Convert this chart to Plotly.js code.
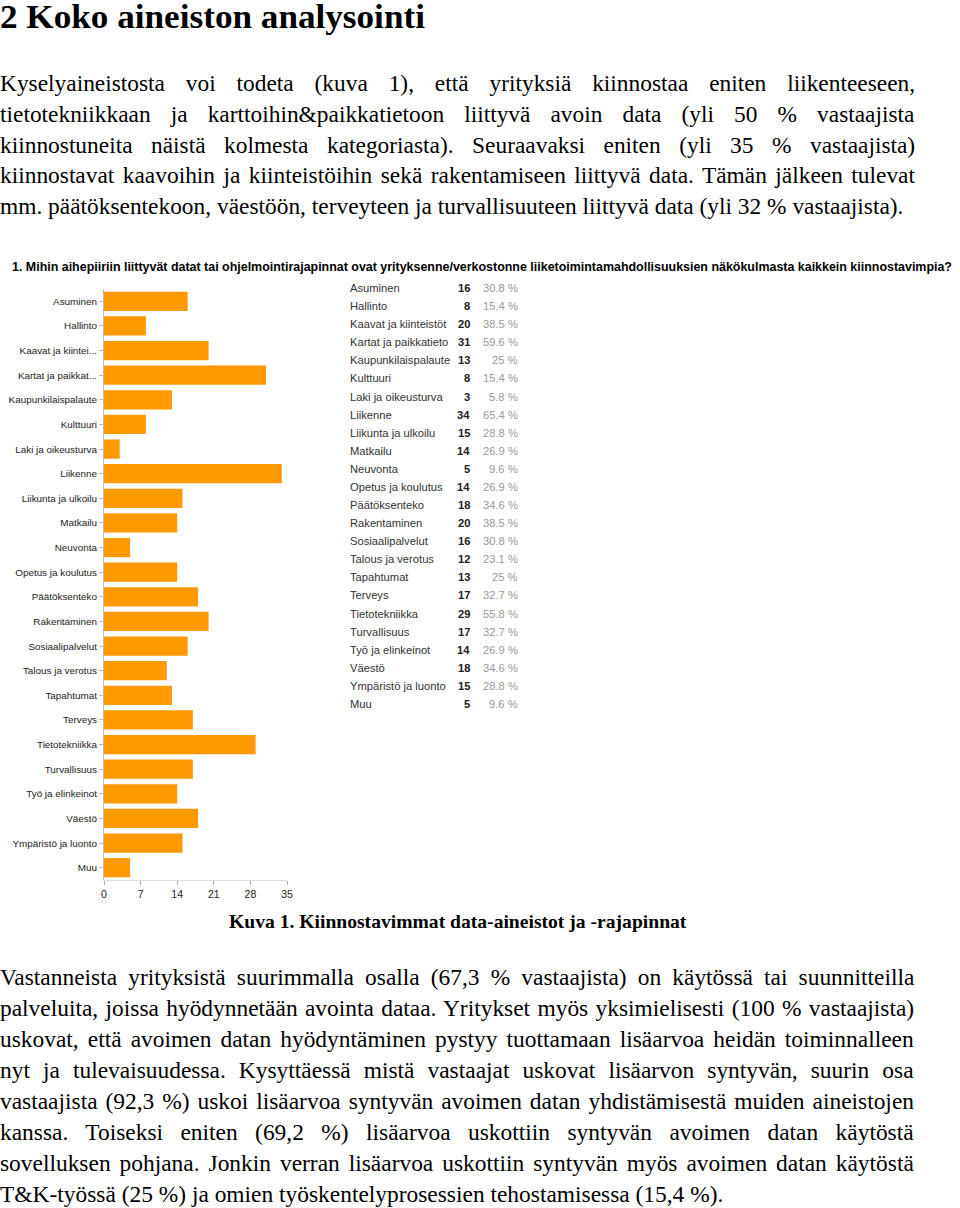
<!DOCTYPE html>
<html>
<head>
<meta charset="utf-8">
<script src="https://cdn.plot.ly/plotly-3.0.1.min.js"></script>
<style>
  html, body { margin: 0; padding: 0; background: #fff; }
  body { width: 960px; height: 1208px; position: relative; overflow: hidden; font-family: "Liberation Serif", "Times New Roman", serif; color: #000; }
  .ln { position: absolute; white-space: pre; transform-origin: 0 50%; }
  #chart { position: absolute; left: 0; top: 250px; width: 960px; height: 650px; }
</style>
</head>
<body>
<div id="doc"></div>
<div id="chart"></div>
<script>
// ---------- document text ----------
const headingText = "2 Koko aineiston analysointi";
const para1Lines = [
  "Kyselyaineistosta voi todeta (kuva 1), että yrityksiä kiinnostaa eniten liikenteeseen,",
  "tietotekniikkaan ja karttoihin&paikkatietoon liittyvä avoin data (yli 50 % vastaajista",
  "kiinnostuneita näistä kolmesta kategoriasta). Seuraavaksi eniten (yli 35 % vastaajista)",
  "kiinnostavat kaavoihin ja kiinteistöihin sekä rakentamiseen liittyvä data. Tämän jälkeen tulevat",
  "mm. päätöksentekoon, väestöön, terveyteen ja turvallisuuteen liittyvä data (yli 32 % vastaajista)."
];
const captionText = "Kuva 1. Kiinnostavimmat data-aineistot ja -rajapinnat";
const para2Lines = [
  "Vastanneista yrityksistä suurimmalla osalla (67,3 % vastaajista) on käytössä tai suunnitteilla",
  "palveluita, joissa hyödynnetään avointa dataa. Yritykset myös yksimielisesti (100 % vastaajista)",
  "uskovat, että avoimen datan hyödyntäminen pystyy tuottamaan lisäarvoa heidän toiminnalleen",
  "nyt ja tulevaisuudessa. Kysyttäessä mistä vastaajat uskovat lisäarvon syntyvän, suurin osa",
  "vastaajista (92,3 %) uskoi lisäarvoa syntyvän avoimen datan yhdistämisestä muiden aineistojen",
  "kanssa. Toiseksi eniten (69,2 %) lisäarvoa uskottiin syntyvän avoimen datan käytöstä",
  "sovelluksen pohjana. Jonkin verran lisäarvoa uskottiin syntyvän myös avoimen datan käytöstä",
  "T&K-työssä (25 %) ja omien työskentelyprosessien tehostamisessa (15,4 %)."
];

// ---------- chart data ----------
const chartTitle = "1. Mihin aihepiiriin liittyvät datat tai ohjelmointirajapinnat ovat yrityksenne/verkostonne liiketoimintamahdollisuuksien näkökulmasta kaikkein kiinnostavimpia?";
const categories = ["Asuminen","Hallinto","Kaavat ja kiinteistöt","Kartat ja paikkatieto","Kaupunkilaispalaute","Kulttuuri","Laki ja oikeusturva","Liikenne","Liikunta ja ulkoilu","Matkailu","Neuvonta","Opetus ja koulutus","Päätöksenteko","Rakentaminen","Sosiaalipalvelut","Talous ja verotus","Tapahtumat","Terveys","Tietotekniikka","Turvallisuus","Työ ja elinkeinot","Väestö","Ympäristö ja luonto","Muu"];
const axisLabels = ["Asuminen","Hallinto","Kaavat ja kiintei...","Kartat ja paikkat...","Kaupunkilaispalaute","Kulttuuri","Laki ja oikeusturva","Liikenne","Liikunta ja ulkoilu","Matkailu","Neuvonta","Opetus ja koulutus","Päätöksenteko","Rakentaminen","Sosiaalipalvelut","Talous ja verotus","Tapahtumat","Terveys","Tietotekniikka","Turvallisuus","Työ ja elinkeinot","Väestö","Ympäristö ja luonto","Muu"];
const counts = [16,8,20,31,13,8,3,34,15,14,5,14,18,20,16,12,13,17,29,17,14,18,15,5];
const percents = ["30.8","15.4","38.5","59.6","25","15.4","5.8","65.4","28.8","26.9","9.6","26.9","34.6","38.5","30.8","23.1","25","32.7","55.8","32.7","26.9","34.6","28.8","9.6"];
const xTicks = [0,7,14,21,28,35];

// ---------- text layout helpers ----------
const doc = document.getElementById("doc");
function makeLine(text, fontSize, bold, lh) {
  const s = document.createElement("span");
  s.className = "ln";
  s.textContent = text;
  s.style.fontSize = fontSize + "px";
  s.style.lineHeight = (lh || Math.round(fontSize * 1.2)) + "px";
  if (bold) s.style.fontWeight = "bold";
  doc.appendChild(s);
  return s;
}
function placeFit(text, left, width, cy, fontSize, bold, lh) {
  const s = makeLine(text, fontSize, bold, lh);
  const w = s.offsetWidth, h = s.offsetHeight;
  s.style.left = left + "px";
  s.style.top = (cy - h / 2) + "px";
  s.style.transform = "scaleX(" + (width / w) + ")";
}
function placePara(lines, firstCy, step, fontSize, right, lastRight) {
  const spans = lines.map(t => makeLine(t, fontSize, false));
  const last = spans[spans.length - 1];
  const sc = lastRight / last.offsetWidth;
  spans.forEach((s, i) => {
    const h = s.offsetHeight;
    s.style.left = "0px";
    s.style.top = (firstCy + i * step - h / 2) + "px";
    if (i === spans.length - 1) {
      s.style.transform = "scaleX(" + sc + ")";
      return;
    }
    const w = s.offsetWidth;
    const nsp = (lines[i].match(/ /g) || []).length;
    const extra = right / sc - w;
    if (extra >= 0 && nsp > 0) {
      s.style.wordSpacing = (extra / nsp) + "px";
      s.style.transform = "scaleX(" + sc + ")";
    } else {
      s.style.transform = "scaleX(" + (right / w) + ")";
    }
  });
}
placeFit(headingText, 0, 425, 17, 34, true, 32);
placePara(para1Lines, 84, 30.75, 23, 915, 903);
placeFit(captionText, 229, 457, 921, 19, true);
placePara(para2Lines, 978, 31, 23, 914, 723);

// ---------- chart ----------
const W = 960, H = 650;
const L = 104, R = 287, T = 39, B = 630;
const px2x = p => (p - L) / (R - L);
const px2y = p => 1 - (p - T) / (B - T);
const sans = "Liberation Sans, Arial, sans-serif";

const ann = [];
ann.push({text: "<b>" + chartTitle + "</b>", xref: "paper", yref: "paper", x: px2x(10), y: px2y(17), xanchor: "left", yanchor: "middle", showarrow: false, font: {family: sans, size: 12.45, color: "#000"}});
const rowTop = 38, rowStep = (454 - 38) / 23;
categories.forEach((c, i) => {
  const yy = px2y(rowTop + i * rowStep);
  ann.push({text: c, xref: "paper", yref: "paper", x: px2x(348), y: yy, xanchor: "left", yanchor: "middle", showarrow: false, font: {family: sans, size: 11.2, color: "#333"}});
  ann.push({text: "<b>" + counts[i] + "</b>", xref: "paper", yref: "paper", x: px2x(472), y: yy, xanchor: "right", yanchor: "middle", showarrow: false, font: {family: sans, size: 11.2, color: "#222"}});
  ann.push({text: percents[i] + " %", xref: "paper", yref: "paper", x: px2x(520), y: yy, xanchor: "right", yanchor: "middle", showarrow: false, font: {family: sans, size: 11.2, color: "#999"}});
});

const trace = {
  type: "bar", orientation: "h",
  x: counts, y: axisLabels,
  marker: {color: "#ff9900"},
  hoverinfo: "x+y"
};
const layout = {
  width: W, height: H,
  margin: {l: L, r: W - R, t: T, b: H - B, pad: 0},
  paper_bgcolor: "rgba(0,0,0,0)", plot_bgcolor: "rgba(0,0,0,0)",
  showlegend: false,
  bargap: 0.22,
  font: {family: sans, size: 10, color: "#222"},
  xaxis: {range: [0, 35], tickvals: xTicks, ticktext: xTicks.map(String), showgrid: false, zeroline: false,
          showline: true, linecolor: "#ddd", linewidth: 1, ticks: "outside", ticklen: 4, tickcolor: "#aaa",
          tickfont: {size: 10.5, color: "#222"}, fixedrange: true},
  yaxis: {type: "category", autorange: "reversed", showgrid: false, zeroline: false,
          showline: true, linecolor: "#bbb", linewidth: 1, ticks: "outside", ticklen: 4, tickcolor: "#bbb",
          tickfont: {size: 9.9, color: "#222"}, fixedrange: true},
  annotations: ann
};
Plotly.newPlot("chart", [trace], layout, {displayModeBar: false, staticPlot: true});
</script>
</body>
</html>
